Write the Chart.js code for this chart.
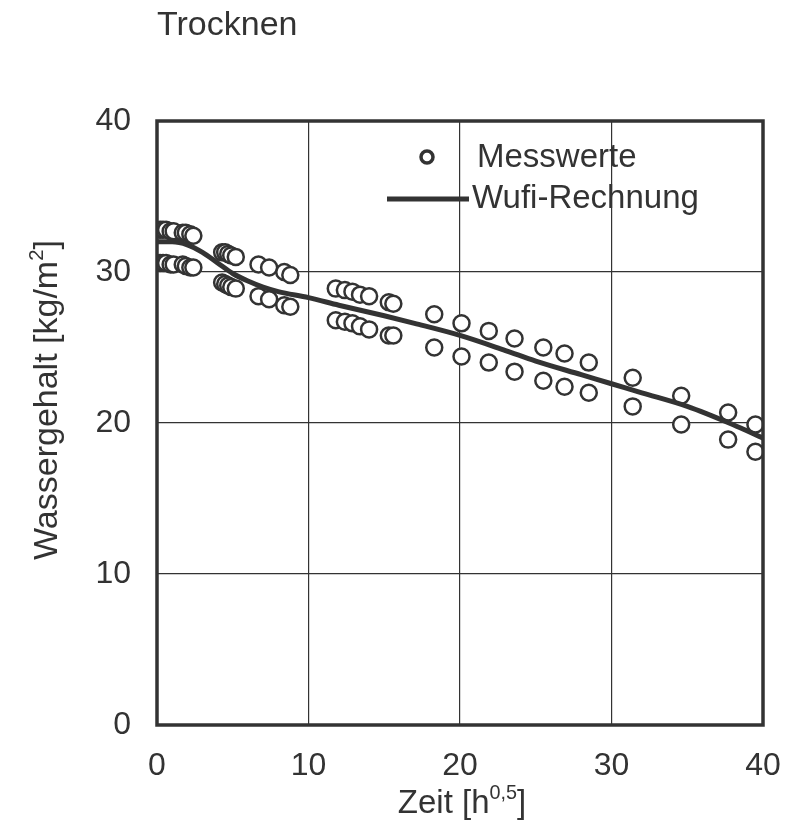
<!DOCTYPE html>
<html>
<head>
<meta charset="utf-8">
<script src="https://cdn.jsdelivr.net/npm/chart.js@4"></script>
<style>
  html, body { margin: 0; padding: 0; background: #fff; }
  #wrap { width: 789px; height: 828px; }
</style>
</head>
<body>
<div id="wrap"><canvas id="trocknenChart" width="789" height="828"></canvas></div>
<script>
// Messwerte: Zeit [h^0,5], obere und untere Probe [kg/m²]
const messZeit  = [0.2, 0.4, 0.6, 0.9, 1.1, 1.7, 1.9, 2.2, 2.4,
                   4.3, 4.5, 4.7, 4.9, 5.2,
                   6.7, 7.4, 8.4, 8.8,
                   11.8, 12.4, 12.9, 13.4, 14.0, 15.3, 15.6,
                   18.3, 20.1, 21.9, 23.6, 25.5, 26.9, 28.5,
                   31.4, 34.6, 37.7, 39.5];
const messOben  = [32.8, 32.8, 32.8, 32.7, 32.7, 32.6, 32.6, 32.5, 32.4,
                   31.3, 31.3, 31.2, 31.1, 31.0,
                   30.5, 30.3, 30.0, 29.8,
                   28.9, 28.8, 28.7, 28.5, 28.4, 28.0, 27.9,
                   27.2, 26.6, 26.1, 25.6, 25.0, 24.6, 24.0,
                   23.0, 21.8, 20.7, 19.9];
const messUnten = [30.6, 30.6, 30.6, 30.5, 30.5, 30.5, 30.4, 30.3, 30.3,
                   29.3, 29.2, 29.1, 29.0, 28.9,
                   28.4, 28.2, 27.8, 27.7,
                   26.8, 26.7, 26.6, 26.4, 26.2, 25.8, 25.8,
                   25.0, 24.4, 24.0, 23.4, 22.8, 22.4, 22.0,
                   21.1, 19.9, 18.9, 18.1];

// Wufi-Rechnung
const wufiZeit   = [0, 1, 2, 3, 4, 5, 6, 7, 8, 10, 12, 15, 17, 20, 23, 25, 28, 30, 32, 35, 38, 40];
const wufiWasser = [32.0, 32.0, 31.8, 31.3, 30.6, 29.9, 29.4, 29.0, 28.7, 28.3, 27.8, 27.1, 26.6,
                    25.8, 24.8, 24.1, 23.2, 22.6, 22.0, 21.1, 19.9, 19.0];

const xTicks = [0, 10, 20, 30, 40];
const yTicks = [0, 10, 20, 30, 40];

const ink = '#333333';
const fontFam = '"Liberation Sans", Arial, sans-serif';

const messPunkte = [];
messZeit.forEach((t, i) => {
    messPunkte.push({ x: t, y: messOben[i] });
    messPunkte.push({ x: t, y: messUnten[i] });
});
const wufiPunkte = wufiZeit.map((t, i) => ({ x: t, y: wufiWasser[i] }));

// text with a raised part, e.g. m² or h^0,5
function drawSupText(ctx, parts, x, y, size) {
    let total = 0;
    parts.forEach(p => {
        ctx.font = (p.sup ? size * 0.6 : size) + 'px ' + fontFam;
        total += ctx.measureText(p.t).width;
    });
    let cx = x - total / 2;
    parts.forEach(p => {
        ctx.font = (p.sup ? size * 0.6 : size) + 'px ' + fontFam;
        ctx.fillText(p.t, cx, p.sup ? y - size * 0.42 : y);
        cx += ctx.measureText(p.t).width;
    });
}

const decorations = {
    id: 'decorations',
    afterDatasetsDraw(chart) {
        const ctx = chart.ctx;
        const a = chart.chartArea;
        ctx.save();

        // frame
        ctx.strokeStyle = ink;
        ctx.lineWidth = 3.5;
        ctx.strokeRect(a.left, a.top, a.right - a.left, a.bottom - a.top);

        // legend
        ctx.fillStyle = '#fff';
        ctx.lineWidth = 3.5;
        ctx.beginPath();
        ctx.arc(427, 157, 6, 0, Math.PI * 2);
        ctx.fill();
        ctx.stroke();
        ctx.lineWidth = 5;
        ctx.beginPath();
        ctx.moveTo(387, 199);
        ctx.lineTo(469, 199);
        ctx.stroke();

        ctx.fillStyle = ink;
        ctx.textBaseline = 'middle';
        ctx.textAlign = 'left';
        ctx.font = '33px ' + fontFam;
        ctx.fillText('Messwerte', 477, 158);
        ctx.fillText('Wufi-Rechnung', 472, 199);

        // title
        ctx.font = '34px ' + fontFam;
        ctx.fillText('Trocknen', 157, 26);

        // axis titles
        ctx.textBaseline = 'alphabetic';
        ctx.textAlign = 'left';
        drawSupText(ctx, [{ t: 'Zeit [h' }, { t: '0,5', sup: true }, { t: ']' }], 462, 813, 33);

        ctx.translate(57, 400);
        ctx.rotate(-Math.PI / 2);
        drawSupText(ctx, [{ t: 'Wassergehalt [kg/m' }, { t: '2', sup: true }, { t: ']' }], 0, 0, 34);

        ctx.restore();
    }
};

new Chart(document.getElementById('trocknenChart'), {
    type: 'scatter',
    data: {
        datasets: [
            {
                label: 'Messwerte',
                data: messPunkte,
                pointRadius: 8,
                pointBorderWidth: 2.5,
                pointBackgroundColor: '#ffffff',
                pointBorderColor: ink,
                order: 1
            },
            {
                label: 'Wufi-Rechnung',
                type: 'line',
                data: wufiPunkte,
                showLine: true,
                borderColor: ink,
                borderWidth: 5,
                pointRadius: 0,
                cubicInterpolationMode: 'monotone',
                fill: false,
                order: 0
            }
        ]
    },
    options: {
        responsive: false,
        animation: false,
        layout: { padding: { top: 121, right: 26, left: 0, bottom: 0 } },
        plugins: {
            legend: { display: false },
            tooltip: { enabled: false },
            title: { display: false }
        },
        scales: {
            x: {
                type: 'linear',
                min: 0,
                max: 40,
                afterBuildTicks: s => { s.ticks = xTicks.map(v => ({ value: v })); },
                afterFit: s => {
                    s.height = 103;
                    s.paddingLeft = 0;
                    s.paddingRight = 0;
                },
                grid: { color: ink, lineWidth: 1.2, drawTicks: false },
                border: { display: false },
                ticks: {
                    color: ink,
                    padding: 22,
                    maxRotation: 0,
                    font: { family: fontFam, size: 32 }
                }
            },
            y: {
                min: 0,
                max: 40,
                afterBuildTicks: s => { s.ticks = yTicks.map(v => ({ value: v })); },
                afterFit: s => {
                    s.width = 157;
                    s.paddingTop = 0;
                    s.paddingBottom = 0;
                },
                grid: { color: ink, lineWidth: 1.2, drawTicks: false },
                border: { display: false },
                ticks: {
                    color: ink,
                    padding: 26,
                    font: { family: fontFam, size: 32 }
                }
            }
        }
    },
    plugins: [decorations]
});
</script>
</body>
</html>
